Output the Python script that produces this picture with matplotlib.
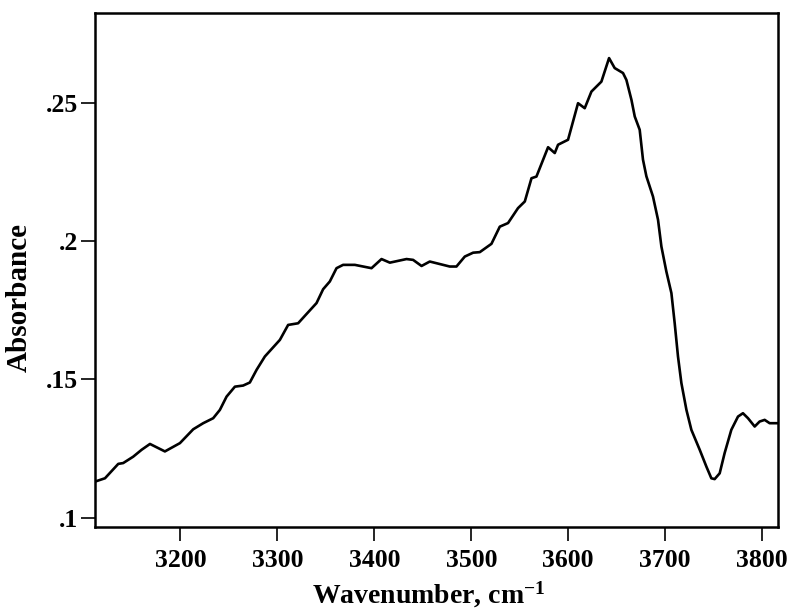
import numpy as np
import matplotlib
matplotlib.use("Agg")
import matplotlib.pyplot as plt

# wavenumber (cm-1) and absorbance
wavenumber = [3111.9, 3122.2, 3135.9, 3141.0, 3151.3, 3160.0, 3168.6, 3184.0, 3199.5, 3213.2,
              3223.5, 3233.8, 3240.7, 3247.6, 3256.2, 3264.7, 3271.6, 3278.6, 3287.1, 3302.6,
              3311.1, 3321.4, 3328.4, 3340.4, 3347.2, 3354.1, 3361.0, 3367.8, 3379.9, 3388.5,
              3397.1, 3407.4, 3416.0, 3433.2, 3440.0, 3448.7, 3457.2, 3477.8, 3484.7, 3493.3,
              3501.9, 3508.8, 3520.8, 3529.4, 3537.9, 3548.2, 3555.2, 3562.1, 3567.2, 3579.2,
              3586.1, 3589.5, 3599.8, 3610.1, 3617.0, 3623.9, 3634.2, 3642.1, 3647.9, 3656.5,
              3660.0, 3665.2, 3668.6, 3673.7, 3677.1, 3680.6, 3687.4, 3692.6, 3696.1, 3701.2,
              3706.4, 3709.8, 3713.2, 3716.7, 3721.9, 3727.0, 3735.6, 3742.5, 3747.6, 3751.0,
              3756.2, 3761.3, 3768.2, 3775.1, 3780.2, 3785.4, 3792.3, 3797.4, 3802.6, 3807.7,
              3816.3]
absorbance = [0.1131, 0.1143, 0.1195, 0.1198, 0.1221, 0.1246, 0.1267, 0.1240, 0.1270, 0.1320,
              0.1342, 0.1360, 0.1390, 0.1438, 0.1474, 0.1478, 0.1489, 0.1535, 0.1583, 0.1643,
              0.1697, 0.1703, 0.1730, 0.1776, 0.1826, 0.1854, 0.1902, 0.1914, 0.1914, 0.1908,
              0.1902, 0.1935, 0.1922, 0.1935, 0.1932, 0.1910, 0.1926, 0.1908, 0.1908, 0.1944,
              0.1958, 0.1960, 0.1990, 0.2052, 0.2065, 0.2119, 0.2143, 0.2227, 0.2233, 0.2339,
              0.2318, 0.2348, 0.2366, 0.2498, 0.2480, 0.2540, 0.2576, 0.2661, 0.2625, 0.2607,
              0.2582, 0.2510, 0.2450, 0.2402, 0.2294, 0.2234, 0.2161, 0.2077, 0.1980, 0.1890,
              0.1812, 0.1703, 0.1583, 0.1487, 0.1390, 0.1318, 0.1246, 0.1185, 0.1143, 0.1140,
              0.1161, 0.1234, 0.1318, 0.1366, 0.1378, 0.1360, 0.1330, 0.1348, 0.1354, 0.1342,
              0.1342]

xticks = [3200, 3300, 3400, 3500, 3600, 3700, 3800]
yticks = [0.10, 0.15, 0.20, 0.25]
ytick_labels = [".1", ".15", ".2", ".25"]

plt.rcParams["font.family"] = ["Liberation Serif", "DejaVu Serif"]
plt.rcParams["font.weight"] = "bold"
plt.rcParams["mathtext.fontset"] = "custom"
plt.rcParams["mathtext.bf"] = "Liberation Serif:bold"
plt.rcParams["mathtext.rm"] = "Liberation Serif:bold"
plt.rcParams["mathtext.default"] = "bf"

fig = plt.figure(figsize=(7.89, 6.15), dpi=100)
ax = fig.add_axes([0.1204, 0.1431, 0.8656, 0.8358])

ax.plot(wavenumber, absorbance, color="black", lw=1.9,
        solid_joinstyle="round", solid_capstyle="round")

ax.set_xlim(3111.9, 3816.3)
ax.set_ylim(0.0967, 0.2824)
ax.set_xticks(xticks)
ax.set_xticklabels([str(v) for v in xticks])
ax.set_yticks(yticks)
ax.set_yticklabels(ytick_labels)

ax.tick_params(direction="out", length=10, width=1.2, labelsize=18.5)
ax.tick_params(axis="x", pad=6)
ax.tick_params(axis="y", pad=2)
for lab in ax.get_xticklabels() + ax.get_yticklabels():
    lab.set_fontweight("bold")
for s in ax.spines.values():
    s.set_linewidth(1.8)

ax.set_xlabel("Wavenumber, cm$^{-1}$", fontsize=20, fontweight="bold")
ax.xaxis.set_label_coords(0.489, -0.102)
ax.set_ylabel("Absorbance", fontsize=21, fontweight="bold")
ax.yaxis.set_label_coords(-0.091, 0.4455)

fig.savefig("out.png", dpi=100)
